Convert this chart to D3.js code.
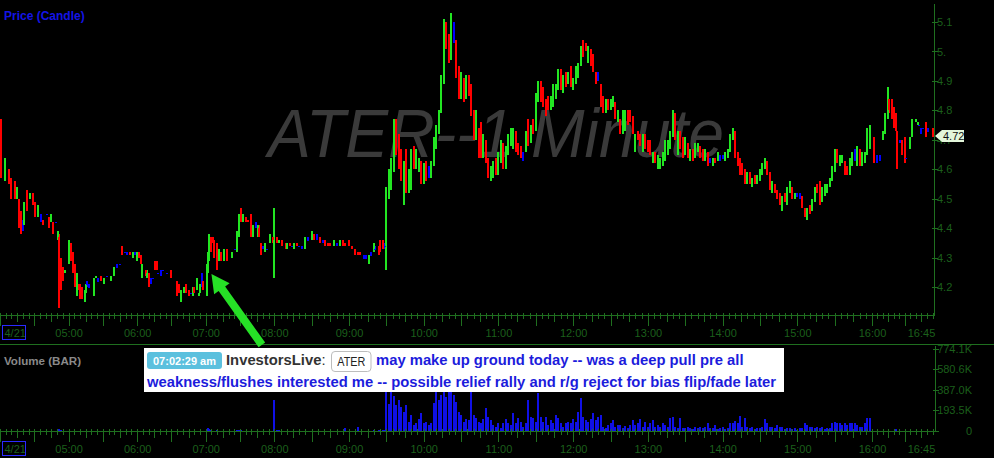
<!DOCTYPE html>
<html>
<head>
<meta charset="utf-8">
<script src="https://cdn.jsdelivr.net/npm/d3@7/dist/d3.min.js"></script>
<style>
html,body{margin:0;padding:0;background:#000;overflow:hidden;}
svg{display:block;}
text{font-family:"Liberation Sans",Arial,Helvetica,sans-serif;}
</style>
</head>
<body>
<svg id="chart" width="994" height="458"></svg>
<script>
// ---------------- DATA ----------------
const symbol = "ATER";
const dateLabel = "4/21";
// premarket bars: [minutes after 04:00, open, high, low, close, volume (K)]
const premarketBars = [
[1,4.74,4.77,4.57,4.60,4],[4,4.57,4.64,4.56,4.63,2],[8,4.59,4.60,4.55,4.56,2],[10,4.56,4.57,4.50,4.52,2],
[13,4.55,4.56,4.50,4.51,2],[15,4.51,4.54,4.50,4.53,2],[17,4.50,4.50,4.40,4.42,3],[18,4.45,4.46,4.38,4.40,2],
[20,4.41,4.43,4.39,4.41,1],[21,4.42,4.49,4.41,4.48,2],[24,4.53,4.53,4.46,4.47,2],[26,4.50,4.52,4.50,4.51,1],
[29,4.51,4.52,4.48,4.49,1],[31,4.48,4.49,4.44,4.45,2],[33,4.44,4.48,4.44,4.47,1],[36,4.44,4.45,4.42,4.44,1],
[38,4.43,4.43,4.41,4.41,1],[41,4.45,4.45,4.45,4.45,1],[43,4.44,4.44,4.40,4.40,1],[45,4.42,4.45,4.42,4.44,1],
[46,4.42,4.42,4.38,4.38,2],[49,4.42,4.42,4.42,4.42,1],[51,4.37,4.39,4.36,4.38,2],[52,4.37,4.38,4.13,4.18,20],
[53,4.26,4.30,4.19,4.24,6],[55,4.26,4.27,4.22,4.23,3],[57,4.25,4.26,4.25,4.26,1],[60,4.28,4.36,4.28,4.35,4],
[62,4.35,4.35,4.29,4.30,2],[64,4.31,4.32,4.25,4.26,2],[66,4.27,4.28,4.20,4.21,3],[67,4.18,4.25,4.17,4.24,2],
[69,4.21,4.21,4.19,4.19,1],[70,4.21,4.21,4.16,4.17,2],[72,4.20,4.20,4.16,4.16,2],[74,4.16,4.19,4.15,4.18,2],
[75,4.19,4.21,4.18,4.21,1],[76,4.21,4.22,4.20,4.21,1],[78,4.20,4.21,4.20,4.20,1],[82,4.18,4.23,4.17,4.23,2],
[84,4.23,4.24,4.23,4.24,1],[86,4.22,4.23,4.22,4.22,1],[88,4.24,4.24,4.22,4.22,1],[91,4.22,4.23,4.21,4.23,1],
[94,4.24,4.24,4.24,4.24,1],[97,4.22,4.24,4.22,4.24,1],[100,4.24,4.27,4.24,4.26,2],[102,4.27,4.28,4.27,4.27,1],
[105,4.28,4.28,4.28,4.28,1],[107,4.34,4.34,4.31,4.32,2],[109,4.32,4.32,4.32,4.32,1],[111,4.32,4.32,4.31,4.32,1],
[114,4.32,4.32,4.31,4.31,1],[116,4.30,4.32,4.30,4.31,1],[118,4.32,4.32,4.31,4.32,1],[120,4.29,4.32,4.29,4.32,1],
[122,4.32,4.32,4.30,4.30,1],[123,4.31,4.31,4.28,4.28,1],[124,4.24,4.28,4.23,4.27,2],[128,4.26,4.26,4.24,4.24,1],
[129,4.23,4.26,4.23,4.25,1],[130,4.25,4.25,4.20,4.21,2],[132,4.22,4.23,4.21,4.22,1],[134,4.23,4.23,4.23,4.23,1],
[136,4.29,4.29,4.26,4.26,1],[137,4.29,4.29,4.26,4.26,1],[138,4.25,4.25,4.25,4.25,1],[141,4.26,4.26,4.24,4.26,1],
[143,4.26,4.26,4.26,4.26,1],[146,4.25,4.25,4.25,4.25,1],[150,4.26,4.26,4.23,4.24,1],[155,4.21,4.22,4.17,4.18,2],
[157,4.21,4.21,4.18,4.18,1],[158,4.16,4.19,4.15,4.19,2],[161,4.18,4.20,4.18,4.20,1],[163,4.20,4.21,4.18,4.18,1],
[165,4.19,4.19,4.17,4.17,1],[167,4.18,4.18,4.18,4.18,1],[169,4.17,4.20,4.17,4.20,1],[170,4.20,4.20,4.18,4.18,1],
[172,4.19,4.23,4.19,4.23,2],[174,4.17,4.18,4.17,4.18,1],[175,4.18,4.21,4.18,4.21,1],[177,4.22,4.25,4.20,4.22,3],
[178,4.22,4.22,4.19,4.19,2],[181,4.18,4.28,4.17,4.27,20],[182,4.27,4.32,4.25,4.31,28],[183,4.30,4.38,4.29,4.38,22],
[185,4.37,4.37,4.32,4.33,6],[186,4.36,4.37,4.35,4.35,3],[187,4.35,4.36,4.30,4.31,4],[190,4.34,4.35,4.26,4.28,5],
[192,4.29,4.33,4.29,4.33,2],[193,4.32,4.32,4.29,4.29,2],[196,4.29,4.33,4.29,4.33,2],[199,4.33,4.33,4.29,4.29,2],
[203,4.30,4.32,4.30,4.32,1],[206,4.33,4.33,4.33,4.33,2],[207,4.33,4.39,4.32,4.38,8],[209,4.38,4.45,4.37,4.45,10],
[211,4.46,4.47,4.42,4.43,8],[213,4.42,4.45,4.42,4.45,3],[215,4.43,4.44,4.42,4.42,2],[217,4.43,4.43,4.42,4.42,1],
[220,4.44,4.45,4.37,4.38,4],[221,4.38,4.41,4.37,4.40,2],[224,4.41,4.42,4.40,4.41,1],[226,4.38,4.41,4.37,4.41,1],
[227,4.40,4.41,4.37,4.38,1],[228,4.35,4.35,4.31,4.32,3],[230,4.34,4.34,4.33,4.34,1],[232,4.32,4.35,4.32,4.35,1],
[234,4.33,4.33,4.33,4.33,1],[236,4.35,4.38,4.35,4.37,2],[239,4.37,4.37,4.35,4.35,2],[240,4.35,4.47,4.23,4.36,290],
[242,4.37,4.37,4.35,4.35,8],[244,4.35,4.36,4.35,4.36,6],[246,4.36,4.36,4.34,4.34,3],[249,4.35,4.35,4.33,4.33,2],
[250,4.33,4.35,4.33,4.35,2],[253,4.35,4.35,4.34,4.34,1],[254,4.34,4.34,4.34,4.34,1],[256,4.34,4.35,4.33,4.35,1],
[258,4.35,4.35,4.34,4.34,1],[260,4.34,4.34,4.34,4.34,1],[262,4.34,4.34,4.33,4.34,1],[265,4.34,4.37,4.33,4.37,2],
[267,4.36,4.37,4.36,4.36,1],[270,4.36,4.39,4.36,4.38,2],[272,4.38,4.38,4.36,4.36,1],[274,4.37,4.38,4.36,4.37,1],
[277,4.37,4.37,4.35,4.35,1],[279,4.36,4.36,4.35,4.36,1],[281,4.36,4.36,4.34,4.34,1],[283,4.35,4.35,4.34,4.34,1],
[285,4.35,4.35,4.34,4.34,1],[288,4.34,4.36,4.34,4.36,2],[290,4.35,4.35,4.34,4.35,1],[293,4.34,4.36,4.34,4.36,2],
[295,4.36,4.36,4.34,4.34,2],[297,4.35,4.35,4.34,4.34,28],[300,4.36,4.36,4.34,4.34,3],[302,4.34,4.34,4.33,4.33,2],
[305,4.33,4.33,4.31,4.31,3],[307,4.32,4.32,4.31,4.31,35],[309,4.32,4.32,4.31,4.31,2],[312,4.30,4.31,4.30,4.30,1],
[314,4.30,4.31,4.30,4.30,1],[316,4.29,4.31,4.28,4.30,2],[318,4.31,4.32,4.31,4.31,1],[320,4.32,4.35,4.32,4.34,6],
[321,4.33,4.34,4.33,4.33,4],[324,4.33,4.34,4.31,4.31,8],[325,4.35,4.36,4.32,4.32,10],[327,4.36,4.36,4.33,4.33,8],
[329,4.34,4.35,4.33,4.34,6]
];
// regular session: 2-minute bars starting 09:30  [open, high, low, close]
const sessionStart = 330, sessionStep = 2;
const sessionBars = [
[4.34,4.54,4.26,4.52],[4.52,4.60,4.50,4.59],[4.56,4.64,4.53,4.62],[4.60,4.77,4.59,4.74],[4.76,4.77,4.65,4.67],
[4.71,4.72,4.60,4.62],[4.66,4.67,4.56,4.57],[4.49,4.63,4.48,4.62],[4.66,4.67,4.52,4.54],[4.53,4.60,4.52,4.59],
[4.55,4.67,4.53,4.65],[4.67,4.68,4.60,4.62],[4.61,4.67,4.60,4.66],[4.60,4.64,4.59,4.63],[4.63,4.63,4.55,4.56],
[4.56,4.62,4.55,4.61],[4.62,4.63,4.56,4.58],[4.59,4.61,4.57,4.59],[4.58,4.63,4.57,4.62],[4.62,4.71,4.61,4.70],
[4.69,4.75,4.67,4.74],[4.73,4.80,4.72,4.79],[4.80,4.92,4.79,4.90],[4.90,5.11,4.89,5.06],[5.08,5.10,5.01,5.02],
[5.05,5.06,4.96,4.98],[4.99,5.13,4.97,5.10],[5.06,5.10,5.03,5.06],[5.03,5.04,4.91,4.93],[4.93,4.95,4.84,4.86],
[4.85,4.93,4.84,4.91],[4.90,4.91,4.83,4.85],[4.86,4.92,4.84,4.90],[4.91,4.92,4.85,4.86],[4.88,4.89,4.78,4.79],
[4.79,4.80,4.70,4.71],[4.72,4.80,4.70,4.78],[4.73,4.74,4.64,4.66],[4.75,4.76,4.64,4.65],[4.65,4.72,4.64,4.71],
[4.69,4.70,4.62,4.63],[4.63,4.64,4.57,4.58],[4.57,4.61,4.56,4.60],[4.59,4.63,4.57,4.62],[4.63,4.64,4.58,4.59],
[4.59,4.66,4.58,4.65],[4.64,4.70,4.62,4.68],[4.68,4.69,4.60,4.61],[4.61,4.68,4.60,4.66],[4.66,4.72,4.65,4.70],
[4.69,4.74,4.68,4.73],[4.69,4.74,4.67,4.73],[4.72,4.73,4.66,4.67],[4.68,4.69,4.65,4.66],[4.67,4.68,4.64,4.65],
[4.65,4.66,4.63,4.65],[4.67,4.73,4.66,4.72],[4.76,4.77,4.68,4.70],[4.70,4.75,4.69,4.74],[4.76,4.77,4.72,4.73],
[4.74,4.86,4.73,4.84],[4.84,4.90,4.83,4.88],[4.89,4.90,4.83,4.85],[4.87,4.88,4.81,4.82],[4.83,4.84,4.78,4.79],
[4.84,4.85,4.80,4.81],[4.81,4.85,4.80,4.84],[4.82,4.89,4.81,4.87],[4.85,4.89,4.84,4.88],[4.88,4.94,4.87,4.93],
[4.93,4.94,4.87,4.89],[4.88,4.92,4.86,4.91],[4.92,4.93,4.88,4.89],[4.89,4.93,4.89,4.92],[4.94,4.95,4.88,4.89],
[4.88,4.91,4.87,4.90],[4.90,4.95,4.89,4.94],[4.93,4.96,4.91,4.95],[4.96,5.02,4.95,5.01],[5.03,5.04,4.98,4.99],
[5.03,5.03,5.00,5.01],[4.97,5.02,4.96,5.01],[5.01,5.01,4.95,4.96],[4.98,4.99,4.93,4.94],[4.93,4.93,4.89,4.90],
[4.91,4.93,4.90,4.91],[4.89,4.89,4.81,4.82],[4.84,4.85,4.79,4.80],[4.80,4.84,4.79,4.83],[4.83,4.84,4.80,4.81],
[4.81,4.84,4.80,4.83],[4.82,4.85,4.81,4.84],[4.83,4.83,4.77,4.78],[4.77,4.80,4.76,4.79],[4.77,4.77,4.72,4.73],
[4.73,4.80,4.72,4.79],[4.74,4.80,4.73,4.79],[4.79,4.80,4.75,4.76],[4.80,4.80,4.76,4.77],[4.77,4.78,4.72,4.73],
[4.67,4.72,4.66,4.71],[4.73,4.73,4.70,4.71],[4.71,4.72,4.68,4.69],[4.67,4.72,4.66,4.71],[4.71,4.72,4.67,4.68],
[4.69,4.70,4.66,4.67],[4.69,4.70,4.65,4.66],[4.63,4.66,4.62,4.65],[4.65,4.66,4.62,4.63],[4.61,4.65,4.60,4.64],
[4.62,4.64,4.60,4.63],[4.62,4.66,4.61,4.65],[4.64,4.70,4.63,4.69],[4.67,4.70,4.65,4.69],[4.68,4.73,4.67,4.72],
[4.72,4.80,4.71,4.79],[4.78,4.79,4.70,4.71],[4.66,4.73,4.65,4.72],[4.72,4.73,4.67,4.68],[4.70,4.71,4.64,4.65],
[4.66,4.71,4.65,4.70],[4.68,4.69,4.64,4.65],[4.64,4.67,4.63,4.66],[4.67,4.67,4.63,4.64],[4.65,4.69,4.64,4.68],
[4.67,4.69,4.66,4.68],[4.68,4.68,4.64,4.65],[4.66,4.67,4.63,4.64],[4.64,4.67,4.63,4.66],[4.65,4.66,4.61,4.62],
[4.63,4.64,4.62,4.63],[4.62,4.64,4.61,4.63],[4.64,4.64,4.62,4.63],[4.64,4.66,4.63,4.66],[4.64,4.65,4.63,4.64],
[4.64,4.65,4.64,4.64],[4.64,4.66,4.63,4.66],[4.65,4.67,4.64,4.66],[4.67,4.72,4.66,4.71],[4.71,4.74,4.70,4.73],
[4.72,4.73,4.64,4.65],[4.66,4.66,4.61,4.62],[4.63,4.64,4.58,4.59],[4.61,4.62,4.58,4.59],[4.59,4.60,4.55,4.56],
[4.56,4.59,4.55,4.58],[4.58,4.59,4.55,4.56],[4.55,4.57,4.54,4.57],[4.58,4.58,4.55,4.56],[4.56,4.58,4.55,4.57],
[4.57,4.60,4.56,4.59],[4.59,4.62,4.58,4.61],[4.61,4.64,4.60,4.63],[4.63,4.63,4.58,4.59],[4.59,4.59,4.53,4.54],
[4.53,4.56,4.52,4.55],[4.55,4.55,4.52,4.53],[4.53,4.53,4.50,4.51],[4.51,4.52,4.48,4.49],[4.47,4.51,4.46,4.50],
[4.51,4.52,4.49,4.49],[4.49,4.54,4.48,4.53],[4.53,4.56,4.52,4.55],[4.54,4.54,4.50,4.51],[4.50,4.52,4.50,4.52],
[4.51,4.52,4.51,4.51],[4.51,4.52,4.50,4.51],[4.51,4.51,4.47,4.48],[4.47,4.47,4.44,4.45],[4.44,4.47,4.43,4.46],
[4.47,4.48,4.45,4.46],[4.47,4.50,4.46,4.49],[4.49,4.54,4.49,4.53],[4.55,4.55,4.52,4.53],[4.55,4.56,4.48,4.50],
[4.50,4.54,4.49,4.53],[4.52,4.55,4.51,4.54],[4.53,4.55,4.52,4.55],[4.54,4.57,4.54,4.57],[4.57,4.61,4.56,4.60],
[4.60,4.67,4.59,4.66],[4.66,4.67,4.62,4.63],[4.62,4.65,4.61,4.64],[4.63,4.65,4.62,4.64],[4.63,4.63,4.58,4.59],
[4.60,4.61,4.58,4.59],[4.59,4.64,4.58,4.63],[4.62,4.66,4.61,4.65],[4.66,4.67,4.63,4.66],[4.64,4.68,4.61,4.67],
[4.66,4.67,4.61,4.62],[4.62,4.66,4.61,4.65],[4.63,4.66,4.62,4.65],[4.66,4.74,4.65,4.73],[4.68,4.75,4.67,4.74]
];
// regular session volume per bar (K shares)
const sessionVolume = [
700,250,500,330,245,290,225,175,245,85, 150,55,75,110,170,75,85,55,75,260,
420,290,335,450,320,400,420,335,270,175, 150,85,110,100,400,150,120,85,75,110,
215,130,100,55,40,75,30,75,110,75, 55,170,75,120,85,40,75,290,130,120,
85,355,130,85,130,55,100,75,150,120, 75,40,75,85,75,110,85,175,310,130,
100,85,110,170,100,130,150,40,30,55, 75,100,40,55,55,30,45,30,55,100,
55,75,110,40,85,40,75,100,40,55, 40,75,55,40,120,130,40,30,120,30,
30,40,30,20,40,30,40,30,40,75, 30,30,55,20,30,40,20,30,75,75,
95,75,140,40,120,40,30,40,20,30, 30,40,110,75,40,40,30,55,40,40,
20,30,30,20,30,10,30,30,75,55, 40,40,30,40,30,40,20,30,30,75,
85,75,75,55,75,55,75,75,75,55, 40,40,75,120,120
];
// after-hours bars: [minutes after 04:00, open, high, low, close, volume (K)]
const afterHoursBars = [
[722,4.70,4.71,4.62,4.64,3],[725,4.64,4.65,4.62,4.64,2],[727,4.64,4.65,4.63,4.64,1],[730,4.71,4.73,4.70,4.73,1],
[732,4.73,4.79,4.72,4.78,2],[735,4.78,4.88,4.77,4.86,2],[736,4.84,4.84,4.79,4.80,1],[738,4.83,4.84,4.77,4.78,1],
[740,4.80,4.81,4.74,4.75,1],[742,4.78,4.79,4.73,4.74,20],[743,4.73,4.73,4.60,4.62,1],[746,4.70,4.70,4.69,4.70,1],
[748,4.70,4.70,4.65,4.66,1],[750,4.70,4.71,4.62,4.64,1],[751,4.64,4.64,4.64,4.64,1],[755,4.68,4.71,4.67,4.71,1],
[757,4.72,4.77,4.71,4.77,1],[760,4.76,4.77,4.76,4.77,1],[762,4.75,4.76,4.75,4.76,1],[763,4.75,4.75,4.75,4.75,1],
[765,4.74,4.74,4.72,4.74,1],[767,4.74,4.74,4.74,4.74,1],[769,4.76,4.76,4.71,4.72,1],[771,4.73,4.74,4.73,4.73,1],
[775,4.74,4.74,4.71,4.72,1]
];
const lastPrice = 4.72;
const timeTicks = [60,120,180,240,300,360,420,480,540,600,660,720,765];
const timeTickLabels = ["05:00","06:00","07:00","08:00","09:00","10:00","11:00","12:00","13:00","14:00","15:00","16:00","16:45"];
const priceTicks = [4.2,4.3,4.4,4.5,4.6,4.7,4.8,4.9,5.0,5.1];
const priceTickLabels = ["4.2","4.3","4.4","4.5","4.6","4.7","4.8","4.9","5.","5.1"];
const volumeTicks = [0,193.5,387.0,580.6,774.1];
const volumeTickLabels = ["0","193.5K","387.0K","580.6K","774.1K"];
// annotation
const noteTime = "07:02:29 am";
const noteAuthor = "InvestorsLive";
const noteLines = ["may make up ground today -- was a deep pull pre all",
  "weakness/flushes interested me -- possible relief rally and r/g reject for bias flip/fade later"];
const arrowTime = 185, arrowPrice = 4.245;

// ---------------- STYLE ----------------
const UP = "#22e622", DOWN = "#ff0000", FLAT = "#0000ff", VOL = "#1010e6";
const AXIS = "#1f6f1f", AXIS_TEXT = "#1b5f1b";
const FONT = '"Liberation Sans", Arial, Helvetica, sans-serif';

const svg = d3.select("#chart");
svg.append("rect").attr("width", 994).attr("height", 458).attr("fill", "#000");

// scales (time axis compresses the thinly traded premarket)
const x = d3.scaleLinear().domain([0, 240, 720, 765, 777]).range([0, 274.3, 872, 921, 935]);
const y = d3.scaleLinear().domain([4.2, 5.1]).range([287.3, 22]);
const yv = d3.scaleLinear().domain([0, 774.1]).range([431, 348.5]);

const bars = [
  ...premarketBars.map(d => ({t: d[0], o: d[1], h: d[2], l: d[3], c: d[4], v: d[5]})),
  ...sessionBars.map((d, i) => ({t: sessionStart + i * sessionStep, o: d[0], h: d[1], l: d[2], c: d[3], v: sessionVolume[i]})),
  ...afterHoursBars.map(d => ({t: d[0], o: d[1], h: d[2], l: d[3], c: d[4], v: d[5]}))
];
const colorOf = d => d.c > d.o ? UP : (d.c < d.o ? DOWN : FLAT);

// watermark
svg.append("text").attr("x", 268).attr("y", 157)
  .attr("font-size", 68).attr("font-style", "italic").attr("font-family", FONT)
  .attr("fill", "#3a3a3a").attr("textLength", 456).attr("lengthAdjust", "spacingAndGlyphs")
  .text(symbol + "--1 Minute");

// panel titles
svg.append("text").attr("x", 4).attr("y", 20).attr("font-size", 12).attr("font-weight", "bold")
  .attr("font-family", FONT).attr("fill", "#1414e6").text("Price (Candle)");
svg.append("text").attr("x", 4).attr("y", 365).attr("font-size", 11.6).attr("font-weight", "bold")
  .attr("font-family", FONT).attr("fill", "#8a8a8a").text("Volume (BAR)");

// candles (thin 1-minute style: wick and body share the bar width)
const gC = svg.append("g").attr("shape-rendering", "crispEdges");
gC.selectAll("rect.wick").data(bars).join("rect").attr("class", "wick")
  .attr("x", d => Math.round(x(d.t)) - 1).attr("width", 2)
  .attr("y", d => Math.round(y(d.h)))
  .attr("height", d => Math.max(1, Math.round(y(d.l)) - Math.round(y(d.h))))
  .attr("fill", colorOf);
gC.selectAll("rect.body").data(bars).join("rect").attr("class", "body")
  .attr("x", d => Math.round(x(d.t)) - 1).attr("width", 2)
  .attr("y", d => Math.round(y(Math.max(d.o, d.c))))
  .attr("height", d => Math.max(1, Math.round(y(Math.min(d.o, d.c))) - Math.round(y(Math.max(d.o, d.c)))))
  .attr("fill", colorOf);

// volume bars
const gV = svg.append("g").attr("shape-rendering", "crispEdges");
gV.selectAll("rect").data(bars).join("rect")
  .attr("x", d => Math.round(x(d.t)) - 1).attr("width", 2)
  .attr("y", d => yv(d.v)).attr("height", d => 431 - yv(d.v))
  .attr("fill", VOL);

// time axes
function timeAxis(y0, labelY, boxY) {
  const g = svg.append("g").attr("transform", `translate(0,${y0})`).attr("shape-rendering", "crispEdges");
  const ax = d3.axisBottom(x).tickValues(timeTicks).tickFormat((d, i) => timeTickLabels[i]).tickSize(0).tickPadding(0);
  g.call(ax);
  g.select(".domain").remove();
  g.attr("font-family", FONT).attr("font-size", 11);
  g.selectAll(".tick text").attr("y", labelY - y0).attr("dy", null).attr("fill", AXIS_TEXT);
  g.append("line").attr("x1", 0).attr("x2", 935).attr("y1", 0.5).attr("y2", 0.5).attr("stroke", AXIS);
  const minor = d3.range(0, 777, 5);
  g.selectAll("line.mt").data(minor).join("line").attr("class", "mt")
    .attr("x1", d => Math.round(x(d)) + 0.5).attr("x2", d => Math.round(x(d)) + 0.5)
    .attr("y1", -2).attr("y2", d => d % 30 === 0 ? 11 : (d % 15 === 0 ? 7 : 4))
    .attr("stroke", AXIS);
  svg.append("rect").attr("x", 2.5).attr("y", boxY + 0.5).attr("width", 23).attr("height", 14)
    .attr("fill", "none").attr("stroke", "#2a2aff").attr("shape-rendering", "crispEdges");
  svg.append("text").attr("x", 4.5).attr("y", labelY).attr("font-size", 11).attr("font-family", FONT)
    .attr("fill", AXIS_TEXT).text(dateLabel);
}
timeAxis(315, 336.5, 325);
timeAxis(431, 452.5, 441);

// price axis (right)
const gP = svg.append("g").attr("transform", "translate(934.5,0)").attr("shape-rendering", "crispEdges");
gP.call(d3.axisRight(y).tickValues(priceTicks).tickFormat((d, i) => priceTickLabels[i]).tickSize(3).tickPadding(0));
gP.select(".domain").remove();
gP.attr("font-family", FONT).attr("font-size", 11);
gP.selectAll(".tick line").attr("x1", -3).attr("x2", 3).attr("stroke", AXIS);
gP.selectAll(".tick text").attr("x", 2.5).attr("fill", AXIS_TEXT);
gP.append("line").attr("x1", 0).attr("x2", 0).attr("y1", 4).attr("y2", 315).attr("stroke", AXIS);

// last price marker
const yl = y(lastPrice) + 2;
svg.append("path")
  .attr("d", `M935,${yl} L942,${yl - 6} L964,${yl - 6} L964,${yl + 6} L942,${yl + 6} Z`)
  .attr("fill", "#e3f6da");
svg.append("text").attr("x", 943).attr("y", yl + 4).attr("font-size", 11).attr("font-family", FONT)
  .attr("fill", "#111").text(lastPrice.toFixed(2));

// volume axis (right)
const gVA = svg.append("g").attr("transform", "translate(935.5,0)").attr("shape-rendering", "crispEdges");
gVA.call(d3.axisRight(yv).tickValues(volumeTicks).tickFormat((d, i) => volumeTickLabels[i]).tickSize(3).tickPadding(0));
gVA.select(".domain").remove();
gVA.attr("font-family", FONT).attr("font-size", 11);
gVA.selectAll(".tick line").attr("x1", -3).attr("x2", 3).attr("stroke", AXIS);
gVA.selectAll(".tick text").attr("x", 36.5).attr("text-anchor", "end").attr("fill", AXIS_TEXT);
gVA.append("line").attr("x1", 0).attr("x2", 0).attr("y1", 346).attr("y2", 431).attr("stroke", AXIS);

// separator between panels (drawn over the top volume label, as in the original)
svg.append("line").attr("x1", 0).attr("x2", 994).attr("y1", 344.5).attr("y2", 344.5)
  .attr("stroke", AXIS).attr("shape-rendering", "crispEdges");

// annotation box
const gN = svg.append("g");
gN.append("rect").attr("x", 144).attr("y", 348).attr("width", 640).attr("height", 44).attr("fill", "#fff");
gN.append("rect").attr("x", 147).attr("y", 352).attr("width", 75).attr("height", 17).attr("rx", 3).attr("fill", "#5bc0de");
gN.append("text").attr("x", 184.5).attr("y", 364.5).attr("text-anchor", "middle").attr("font-size", 11)
  .attr("font-weight", "bold").attr("font-family", FONT).attr("fill", "#fff").text(noteTime);
const tA = gN.append("text").attr("x", 226).attr("y", 364.5).attr("font-size", 14.8).attr("font-family", FONT).attr("fill", "#333");
tA.append("tspan").attr("font-weight", "bold").text(noteAuthor);
tA.append("tspan").text(":");
gN.append("rect").attr("x", 331.5).attr("y", 351.5).attr("width", 39.5).attr("height", 20).attr("rx", 3.5)
  .attr("fill", "#fff").attr("stroke", "#bdbdbd");
gN.append("text").attr("x", 351.3).attr("y", 366).attr("text-anchor", "middle").attr("font-size", 13)
  .attr("font-family", FONT).attr("fill", "#222").attr("textLength", 28).attr("lengthAdjust", "spacingAndGlyphs").text(symbol);
gN.append("text").attr("x", 376).attr("y", 364.5).attr("font-size", 14.8).attr("font-weight", "bold")
  .attr("font-family", FONT).attr("fill", "#1c1cdc").text(noteLines[0]);
gN.append("text").attr("x", 147).attr("y", 386.5).attr("font-size", 14.8).attr("font-weight", "bold")
  .attr("font-family", FONT).attr("fill", "#1c1cdc").text(noteLines[1]);

// arrow pointing at the alert bar
const tipX = x(arrowTime), tipY = y(arrowPrice);
const ux = 0.58, uy = 0.815, nx = 0.815, ny = -0.58;
const L = 87, HL = 18, HW = 9.5, SW = 4;
const bx = tipX + ux * HL, by = tipY + uy * HL, ex = tipX + ux * L, ey = tipY + uy * L;
const pts = [
  [tipX, tipY],
  [bx + nx * HW, by + ny * HW],
  [bx + nx * SW, by + ny * SW],
  [ex + nx * SW, ey + ny * SW],
  [ex - nx * SW, ey - ny * SW],
  [bx - nx * SW, by - ny * SW],
  [bx - nx * HW, by - ny * HW]
];
svg.append("path").attr("d", "M" + pts.map(p => p.join(",")).join("L") + "Z").attr("fill", "#26e026");
</script>
</body>
</html>
